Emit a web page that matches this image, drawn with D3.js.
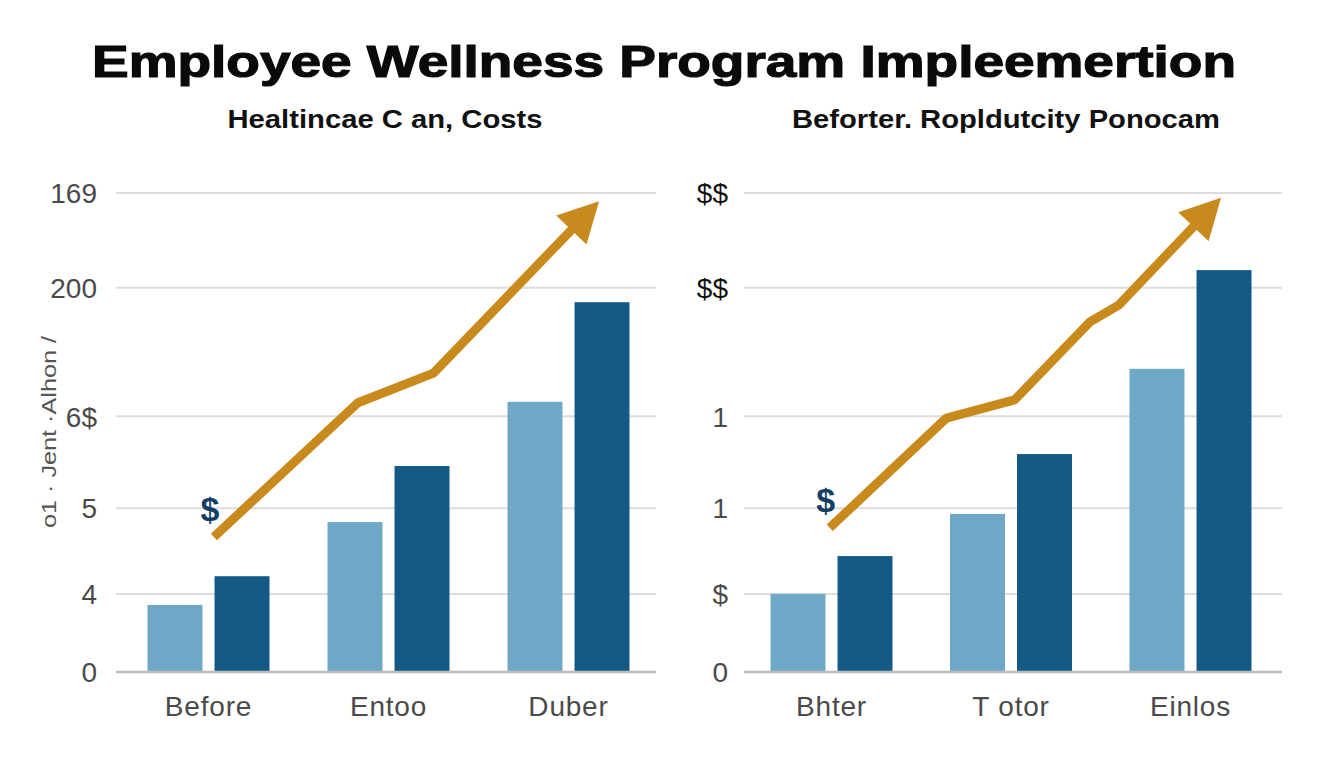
<!DOCTYPE html>
<html>
<head>
<meta charset="utf-8">
<script src="https://cdn.jsdelivr.net/npm/d3@7"></script>
<style>
  body { margin:0; background:#fff; }
  text { font-family: "Liberation Sans", Arial, sans-serif; }
</style>
</head>
<body>
<div id="chart"></div>
<script>
// ---- data
var leftCategories  = ["Before", "Entoo", "Duber"];
var rightCategories = ["Bhter", "T otor", "Einlos"];

var leftBefore  = [14.0, 31.3, 56.4];
var leftAfter   = [20.0, 43.0, 77.2];
var rightBefore = [16.3, 33.0, 63.3];
var rightAfter  = [24.2, 45.5, 83.9];

var gridValues      = [0, 16.3, 34.2, 53.4, 80.2, 100];
var leftTickLabels  = ["0", "4", "5", "6$", "200", "169"];
var rightTickLabels = ["0", "$", "1", "1", "$$", "$$"];

// trend arrow: [group index, value]
var leftTrend  = [[0.03, 28.2], [0.83, 56.2], [1.25, 62.4], [2.17, 98.3]];
var rightTrend = [[-0.01, 30.1], [0.64, 53.0], [1.02, 56.8], [1.44, 73.1], [1.60, 76.6], [2.17, 99.0]];

var w = 1344, h = 768;
var colLight = "#6fa8c7", colDark = "#155a84", colTrend = "#c98a1d";

var svg = d3.select("#chart").append("svg")
    .attr("width", w).attr("height", h);

// title
svg.append("text")
    .attr("x", 664).attr("y", 77)
    .attr("text-anchor", "middle")
    .attr("font-size", 44).attr("font-weight", "bold")
    .attr("textLength", 1144).attr("lengthAdjust", "spacingAndGlyphs")
    .attr("fill", "#0a0a0a")
    .attr("stroke", "#0a0a0a").attr("stroke-width", 1.2)
    .text("Employee Wellness Program Impleemertion");

var y = d3.scaleLinear().domain([0, 100]).range([672, 193]);

function drawPanel(p) {
    var g = svg.append("g").attr("class", p.cls);

    g.append("text")
        .attr("x", p.titleX).attr("y", 128)
        .attr("text-anchor", "middle")
        .attr("font-size", 25).attr("font-weight", "bold")
        .attr("textLength", p.titleLen).attr("lengthAdjust", "spacingAndGlyphs")
        .attr("fill", "#111")
        .text(p.title);

    // grid
    g.selectAll(".grid")
        .data(gridValues.slice(1))
        .enter().append("line")
        .attr("class", "grid")
        .attr("x1", p.gridX[0]).attr("x2", p.gridX[1])
        .attr("y1", function(d) { return y(d); })
        .attr("y2", function(d) { return y(d); })
        .attr("stroke", "#dcdcdc").attr("stroke-width", 2);

    // y axis labels
    var yAxis = d3.axisLeft(y)
        .tickValues(gridValues)
        .tickSize(0).tickPadding(0)
        .tickFormat(function(d, i) { return p.tickLabels[i]; });
    var ya = g.append("g")
        .attr("transform", "translate(" + p.tickX + ",0)")
        .call(yAxis);
    ya.select(".domain").remove();
    ya.selectAll("text")
        .attr("font-size", 28)
        .attr("dy", "0.35em")
        .attr("fill", function(d, i) { return p.tickLabels[i] === "$$" ? "#111" : "#4a4a4a"; })
        .style("font-family", "'Liberation Sans', Arial, sans-serif");

    var x = d3.scaleLinear().domain([0, 2]).range(p.centers);
    var xs = d3.scaleBand().domain(["before", "after"]).range([-61, 61]).paddingInner(0.18);

    var rows = p.categories.map(function(c, i) {
        return { cat: c, i: i, before: p.before[i], after: p.after[i] };
    });

    g.selectAll(".barBefore")
        .data(rows).enter().append("rect")
        .attr("class", "barBefore")
        .attr("x", function(d) { return x(d.i) + xs("before"); })
        .attr("width", xs.bandwidth())
        .attr("y", function(d) { return y(d.before); })
        .attr("height", function(d) { return y(0) - y(d.before); })
        .attr("fill", colLight);

    g.selectAll(".barAfter")
        .data(rows).enter().append("rect")
        .attr("class", "barAfter")
        .attr("x", function(d) { return x(d.i) + xs("after"); })
        .attr("width", xs.bandwidth())
        .attr("y", function(d) { return y(d.after); })
        .attr("height", function(d) { return y(0) - y(d.after); })
        .attr("fill", colDark);

    // baseline
    g.append("line")
        .attr("x1", p.gridX[0]).attr("x2", p.gridX[1])
        .attr("y1", y(0)).attr("y2", y(0))
        .attr("stroke", "#bdbdbd").attr("stroke-width", 2.5);

    // x labels
    g.selectAll(".xlab")
        .data(rows).enter().append("text")
        .attr("class", "xlab")
        .attr("x", function(d) { return x(d.i); })
        .attr("y", 716)
        .attr("text-anchor", "middle")
        .attr("font-size", 28)
        .attr("letter-spacing", 0.8)
        .attr("fill", "#4a4a4a")
        .text(function(d) { return d.cat; });

    // trend arrow
    var pts = p.trend.map(function(d) { return [x(d[0]), y(d[1])]; });
    var tip = pts[pts.length - 1], prev = pts[pts.length - 2];
    var ang = Math.atan2(tip[1] - prev[1], tip[0] - prev[0]);
    var headLen = 40, headHalf = 21;
    var shaft = pts.slice(0, -1).concat([[tip[0] - Math.cos(ang) * (headLen - 4), tip[1] - Math.sin(ang) * (headLen - 4)]]);

    g.append("path")
        .datum(shaft)
        .attr("d", d3.line())
        .attr("fill", "none")
        .attr("stroke", colTrend)
        .attr("stroke-width", 9)
        .attr("stroke-linejoin", "round");

    var bx = tip[0] - Math.cos(ang) * headLen, by = tip[1] - Math.sin(ang) * headLen;
    var head = [
        tip,
        [bx + Math.sin(ang) * headHalf, by - Math.cos(ang) * headHalf],
        [bx - Math.sin(ang) * headHalf, by + Math.cos(ang) * headHalf]
    ];
    g.append("path")
        .attr("d", "M" + head.join("L") + "Z")
        .attr("fill", colTrend);

    // dollar marker at start of trend
    g.append("text")
        .attr("x", pts[0][0] - 4).attr("y", pts[0][1] - 16)
        .attr("text-anchor", "middle")
        .attr("font-size", 34).attr("font-weight", "bold")
        .attr("fill", "#123f66")
        .text("$");
}

drawPanel({
    cls: "leftPanel", title: "Healtincae C an, Costs", titleX: 385, titleLen: 315,
    gridX: [116, 656], tickX: 97, centers: [208.5, 568.5],
    categories: leftCategories, before: leftBefore, after: leftAfter,
    tickLabels: leftTickLabels, trend: leftTrend
});

drawPanel({
    cls: "rightPanel", title: "Beforter. Ropldutcity Ponocam", titleX: 1006, titleLen: 428,
    gridX: [744, 1282], tickX: 728, centers: [831.5, 1190.5],
    categories: rightCategories, before: rightBefore, after: rightAfter,
    tickLabels: rightTickLabels, trend: rightTrend
});

// rotated y label on the left
svg.append("text")
    .attr("transform", "translate(56,432) rotate(-90)")
    .attr("text-anchor", "middle")
    .attr("font-size", 21)
    .attr("textLength", 192).attr("lengthAdjust", "spacingAndGlyphs")
    .attr("fill", "#555")
    .text("o1 · Jent ·Alhon /");
</script>
</body>
</html>
